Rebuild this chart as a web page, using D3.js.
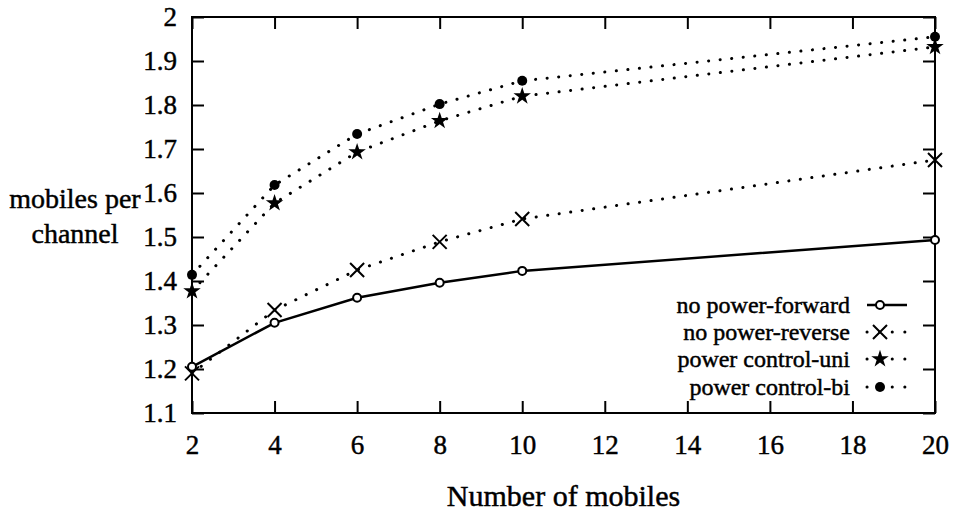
<!DOCTYPE html>
<html>
<head>
<meta charset="utf-8">
<script src="https://cdn.jsdelivr.net/npm/d3@7"></script>
<style>
  html, body { margin: 0; padding: 0; background: #fff; }
  svg { display: block; }
</style>
</head>
<body>
<svg id="chart" width="953" height="519"></svg>
<script>
// ---- data ----
const mobiles = [2, 4, 6, 8, 10, 20];
const noPowerForward = [1.205, 1.305, 1.362, 1.396, 1.423, 1.493];
const noPowerReverse = [1.19, 1.334, 1.425, 1.489, 1.541, 1.675];
const powerControlUni = [1.377, 1.577, 1.693, 1.764, 1.82, 1.932];
const powerControlBi = [1.414, 1.618, 1.734, 1.802, 1.855, 1.955];
const seriesNames = ["no power-forward", "no power-reverse", "power control-uni", "power control-bi"];
const xTicks = [2, 4, 6, 8, 10, 12, 14, 16, 18, 20];
const yTicks = [1.1, 1.2, 1.3, 1.4, 1.5, 1.6, 1.7, 1.8, 1.9, 2];
const xTitle = "Number of mobiles";
const yTitleLines = ["mobiles per", "channel"];

// ---- layout ----
const svg = d3.select("#chart");
const L = 192, R = 935, T = 17, B = 413;
const x = d3.scaleLinear().domain([2, 20]).range([L, R]);
const y = d3.scaleLinear().domain([1.1, 2]).range([B, T]);
const tickLen = 12;
const serif = '"Liberation Serif"';
const thicken = sel => sel.attr("stroke", "#000").attr("stroke-width", 0.45).attr("fill", "#000");

// frame
svg.append("rect").attr("x", L).attr("y", T).attr("width", R - L).attr("height", B - T)
  .attr("fill", "none").attr("stroke", "#000").attr("stroke-width", 2);

// axes with inward ticks (bottom + left labelled, top + right mirrored)
const fmtY = d => (d === 2 ? "2" : d3.format(".1f")(d));
const gB = svg.append("g").attr("transform", `translate(0,${B})`)
  .call(d3.axisBottom(x).tickValues(xTicks).tickSize(-tickLen).tickPadding(32).tickFormat(d3.format("d")));
const gL = svg.append("g").attr("transform", `translate(${L},0)`)
  .call(d3.axisLeft(y).tickValues(yTicks).tickSize(-tickLen).tickPadding(15).tickFormat(fmtY));
const gT = svg.append("g").attr("transform", `translate(0,${T})`)
  .call(d3.axisTop(x).tickValues(xTicks).tickSize(-tickLen).tickFormat(""));
const gR = svg.append("g").attr("transform", `translate(${R},0)`)
  .call(d3.axisRight(y).tickValues(yTicks).tickSize(-tickLen).tickFormat(""));
[gB, gL, gT, gR].forEach(g => {
  g.attr("font-family", serif).attr("font-size", 27);
  g.select(".domain").remove();
  g.selectAll(".tick line").attr("stroke", "#000").attr("stroke-width", 2);
  g.selectAll(".tick text").attr("font-family", serif).attr("font-size", 27).call(thicken);
});
gB.selectAll(".tick text").attr("dy", "0.32em").attr("y", 32);

// axis titles
svg.append("text").attr("x", (L + R) / 2).attr("y", 506).attr("text-anchor", "middle")
  .attr("font-family", serif).attr("font-size", 30).call(thicken).text(xTitle);
yTitleLines.forEach((t, i) => {
  svg.append("text").attr("text-anchor", "middle").attr("font-family", serif).attr("font-size", 28)
    .call(thicken).attr("x", 75).attr("y", 208 + i * 35).text(t);
});

// ---- series ----
const seriesData = [noPowerForward, noPowerReverse, powerControlUni, powerControlBi];
const dashStyles = [null, "0.1,11.5", "0.1,11.5", "0.1,11.5"];
const line = d3.line().x(d => x(d[0])).y(d => y(d[1]));

function drawMarker(g, type, cx, cy) {
  if (type === 0) {
    g.append("circle").attr("cx", cx).attr("cy", cy).attr("r", 4)
      .attr("fill", "#fff").attr("stroke", "#000").attr("stroke-width", 2);
  } else if (type === 1) {
    const s = 7;
    g.append("path").attr("d", `M${cx - s},${cy - s}L${cx + s},${cy + s}M${cx - s},${cy + s}L${cx + s},${cy - s}`)
      .attr("stroke", "#000").attr("stroke-width", 2).attr("fill", "none");
  } else if (type === 2) {
    g.append("path").attr("transform", `translate(${cx},${cy})`)
      .attr("d", d3.symbol(d3.symbolStar, 95)()).attr("fill", "#000");
  } else {
    g.append("circle").attr("cx", cx).attr("cy", cy).attr("r", 5).attr("fill", "#000");
  }
}

seriesData.forEach((vals, si) => {
  const pts = mobiles.map((m, i) => [m, vals[i]]);
  const p = svg.append("path").datum(pts).attr("d", line).attr("fill", "none")
    .attr("stroke", "#000");
  if (dashStyles[si]) {
    p.attr("stroke-width", 3).attr("stroke-linecap", "round").attr("stroke-dasharray", dashStyles[si]);
  } else {
    p.attr("stroke-width", 2.5);
  }
  const g = svg.append("g");
  pts.forEach(d => drawMarker(g, si, x(d[0]), y(d[1])));
});

// ---- legend ----
const legendY = [305, 332, 359, 387];
seriesNames.forEach((name, si) => {
  const ly = legendY[si];
  svg.append("text").attr("x", 850).attr("y", ly).attr("dy", "0.32em")
    .attr("text-anchor", "end").attr("font-family", serif).attr("font-size", 24)
    .call(thicken).text(name);
  const l = svg.append("line").attr("x1", 867).attr("x2", 907).attr("y1", ly).attr("y2", ly)
    .attr("stroke", "#000");
  if (dashStyles[si]) {
    l.attr("stroke-width", 3).attr("stroke-linecap", "round").attr("stroke-dasharray", "0.1,12.5");
  } else {
    l.attr("stroke-width", 2.5);
  }
  const g = svg.append("g");
  drawMarker(g, si, 880, ly);
});
</script>
</body>
</html>
